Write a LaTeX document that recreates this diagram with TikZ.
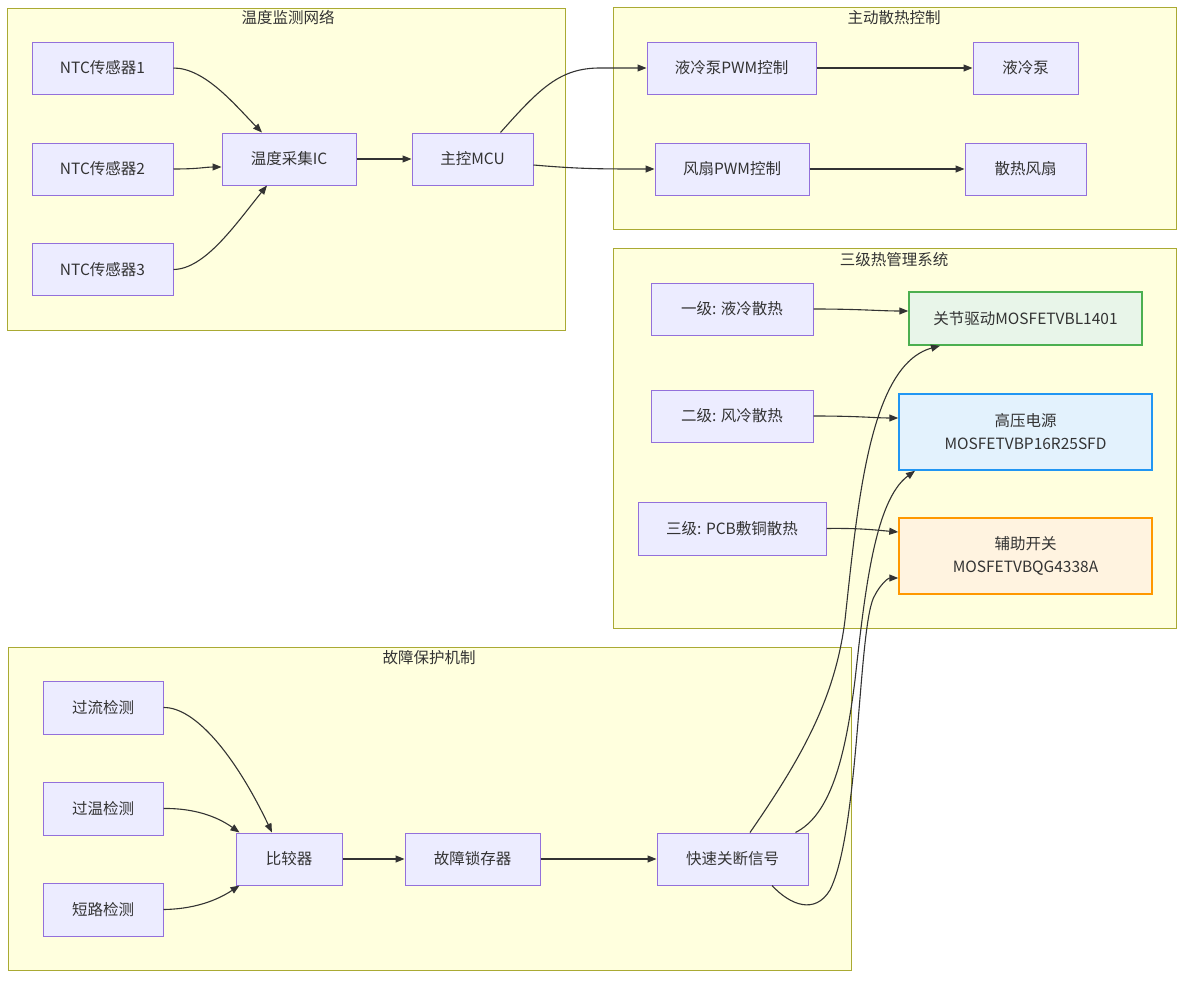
\documentclass[tikz,border=0pt]{standalone}
\usepackage{fontspec}
\setmainfont{Noto Sans CJK SC}
\usetikzlibrary{arrows.meta,calc}
\definecolor{nodefill}{HTML}{ECECFF}
\definecolor{nodeline}{HTML}{9370DB}
\definecolor{clfill}{HTML}{FFFFDE}
\definecolor{clline}{HTML}{AAAA33}
\definecolor{edge}{HTML}{333333}
\definecolor{txt}{HTML}{333333}
\definecolor{gfill}{HTML}{E8F5E9}
\definecolor{gline}{HTML}{4CAF50}
\definecolor{bfill}{HTML}{E3F2FD}
\definecolor{bline}{HTML}{2196F3}
\definecolor{ofill}{HTML}{FFF3E0}
\definecolor{oline}{HTML}{FF9800}
\tikzset{
  box/.style={draw=nodeline,fill=nodefill,line width=1pt,inner sep=0pt,minimum height=52pt,text=txt,font=\fontsize{15.5}{19}\selectfont,align=center},
  cluster/.style={draw=clline,fill=clfill,line width=1pt},
  cltitle/.style={text=txt,font=\fontsize{15.5}{18}\selectfont,inner sep=0pt},
  conn/.style={draw=edge,line width=1.1pt,-{Triangle[length=9pt,width=7pt]}},
  greenbox/.style={box,draw=gline,fill=gfill,line width=1.5pt},
  bluebox/.style={box,draw=bline,fill=bfill,line width=1.5pt},
  orangebox/.style={box,draw=oline,fill=ofill,line width=1.5pt}
}
\begin{document}
\begin{tikzpicture}[x=1pt,y=-1pt]
\useasboundingbox (0,0) rectangle (1192,985);
\fill[white] (0,0) rectangle (1192,985);
% clusters
\draw[cluster] (7,8) rectangle (565,330);
\node[cltitle] (t1) at (288,18) {温度监测网络};
\draw[cluster] (613,7) rectangle (1176,229);
\node[cltitle] (t2) at (894,18) {主动散热控制};
\draw[cluster] (613,248) rectangle (1176,628);
\node[cltitle] (t3) at (894,260) {三级热管理系统};
\draw[cluster] (8,647) rectangle (851,970);
\node[cltitle] (t4) at (429,658) {故障保护机制};
% nodes
\node[box,minimum width=141pt] (ntc1) at (102.5,68) {NTC传感器1};
\node[box,minimum width=141pt] (ntc2) at (102.5,169) {NTC传感器2};
\node[box,minimum width=141pt] (ntc3) at (102.5,269.5) {NTC传感器3};
\node[box,minimum width=134pt] (ic) at (289,159) {温度采集IC};
\node[box,minimum width=121pt] (mcu) at (472.5,159) {主控MCU};
\node[box,minimum width=169pt] (lpwm) at (731.5,68) {液冷泵PWM控制};
\node[box,minimum width=105pt] (pump) at (1025.5,68) {液冷泵};
\node[box,minimum width=154pt] (fpwm) at (732,169) {风扇PWM控制};
\node[box,minimum width=121pt] (fan) at (1025.5,169) {散热风扇};
\node[box,minimum width=162pt] (l1) at (732,309) {一级: 液冷散热};
\node[box,minimum width=162pt] (l2) at (732,416) {二级: 风冷散热};
\node[box,minimum width=188pt,minimum height=53pt] (l3) at (732,528.5) {三级: PCB敷铜散热};
\node[greenbox,minimum width=233pt,minimum height=53pt] (jd) at (1025.5,318.5) {关节驱动MOSFETVBL1401};
\node[bluebox,minimum width=253pt,minimum height=76pt] (hv) at (1025.5,432) {高压电源\\[4pt]MOSFETVBP16R25SFD};
\node[orangebox,minimum width=253pt,minimum height=76pt] (aux) at (1025.5,556) {辅助开关\\[4pt]MOSFETVBQG4338A};
\node[box,minimum width=120pt,minimum height=53pt] (oc) at (103,707.5) {过流检测};
\node[box,minimum width=120pt,minimum height=53pt] (ot) at (103,808.5) {过温检测};
\node[box,minimum width=120pt,minimum height=53pt] (sc) at (103,909.5) {短路检测};
\node[box,minimum width=106pt] (cmp) at (289,859) {比较器};
\node[box,minimum width=135pt] (latch) at (472.5,859) {故障锁存器};
\node[box,minimum width=151pt] (fast) at (732.5,859) {快速关断信号};
% edges: temperature network
\draw[conn] (ntc1.east) .. controls (205,68) and (235,105) .. ([xshift=-27pt]ic.north);
\draw[conn] (ntc2.east) .. controls (200,169) and (205,167) .. ([yshift=-8pt]ic.west);
\draw[conn] (ntc3.east) .. controls (205,269) and (235,225) .. ([xshift=-22pt]ic.south);
\draw[conn] (ic.east) -- (mcu.west);
\draw[conn] ([xshift=28pt]mcu.north) .. controls (540,88) and (560,68) .. (600,68) -- (lpwm.west);
\draw[conn] ([yshift=-6pt]mcu.east) .. controls (580,169) and (600,169) .. (fpwm.west);
\draw[conn] (lpwm.east) -- (pump.west);
\draw[conn] (fpwm.east) -- (fan.west);
% edges: three-level system
\draw[conn] (l1.east) .. controls (860,309) and (880,311) .. ([yshift=7.5pt]jd.west);
\draw[conn] (l2.east) .. controls (860,416) and (875,418) .. ([yshift=14pt]hv.west);
\draw[conn] (l3.east) .. controls (860,528) and (875,530) .. ([yshift=24pt]aux.west);
% edges: fault protection
\draw[conn] (oc.east) .. controls (195,707) and (235,755) .. ([xshift=-17pt]cmp.north);
\draw[conn] (ot.east) .. controls (200,808) and (222,820) .. ([xshift=4pt]cmp.north west);
\draw[conn] (sc.east) .. controls (200,909) and (222,897) .. ([xshift=4pt]cmp.south west);
\draw[conn] (cmp.east) -- (latch.west);
\draw[conn] (latch.east) -- (fast.west);
\draw[conn] ([xshift=17.5pt]fast.north) .. controls (800,760) and (835,700) .. (845,620) .. controls (858,500) and (870,365) .. ([xshift=-85.5pt]jd.south);
\draw[conn] ([xshift=-13pt]fast.north east) .. controls (830,815) and (845,760) .. (855,680) .. controls (865,590) and (875,500) .. ([xshift=-110.5pt]hv.south);
\draw[conn] ([xshift=39.5pt]fast.south) .. controls (790,905) and (815,915) .. (830,890) .. controls (860,830) and (858,620) .. (875,595) .. controls (880,585) and (888,578) .. ([yshift=-22pt]aux.west);
\end{tikzpicture}
\end{document}
